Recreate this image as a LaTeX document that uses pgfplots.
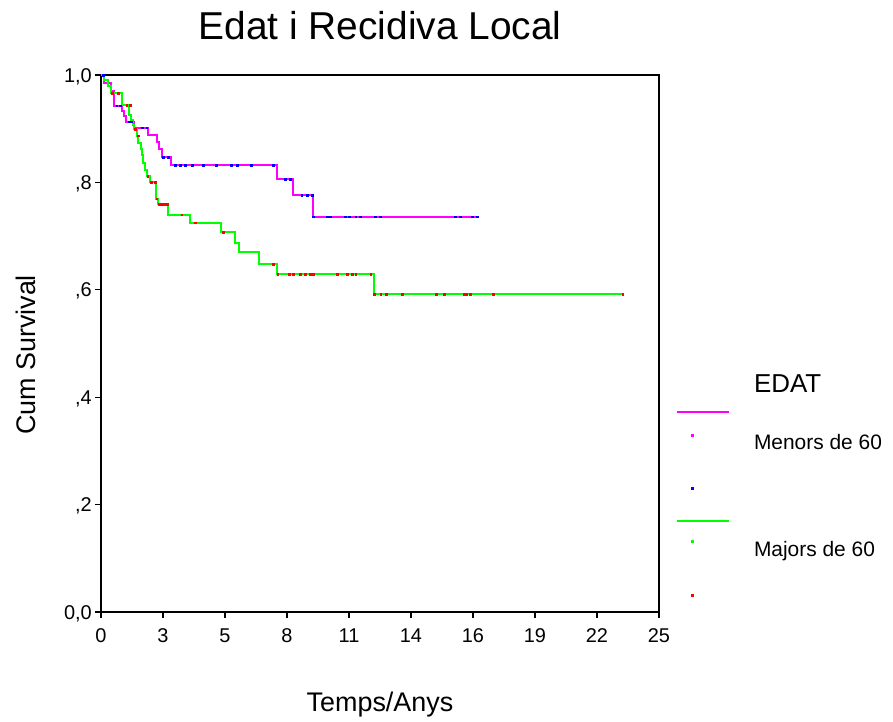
\documentclass[border=0pt]{standalone}
\usepackage{fontspec}
\setmainfont{Liberation Sans}
\usepackage{pgfplots}
\pgfplotsset{compat=1.18}
\definecolor{cMag}{RGB}{255,0,255}
\definecolor{cGrn}{RGB}{0,255,0}
\definecolor{cBlu}{RGB}{0,0,255}
\definecolor{cRed}{RGB}{255,0,0}
\begin{document}
\begin{tikzpicture}
\begin{axis}[
  name=ax,
  scale only axis,
  width=558bp, height=537bp,
  xmin=0, xmax=25, ymin=0, ymax=1,
  xtick={0,2.7778,5.5556,8.3333,11.1111,13.8889,16.6667,19.4444,22.2222,25},
  xticklabels={0,3,5,8,11,14,16,19,22,25},
  ytick={0,0.2,0.4,0.6,0.8,1},
  yticklabels={{0,0},{,2},{,4},{,6},{,8},{1,0}},
  tick align=outside, tick pos=left,
  major tick length=6bp,
  every tick/.style={black, line width=1.2bp},
  axis line style={black, line width=1.3bp},
  ticklabel style={font=\fontsize{20}{24}\selectfont, inner sep=0pt},
  xticklabel style={anchor=base, yshift=-24bp},
  yticklabel style={anchor=base east, xshift=-3bp, yshift=-7.2bp},
  title={Edat i Recidiva Local},
  title style={font=\fontsize{39}{42}\selectfont, at={(axis description cs:0.5,1.0559)}, anchor=base, inner sep=0pt},
  xlabel={Temps/Anys},
  xlabel style={font=\fontsize{27}{29}\selectfont, at={(axis description cs:0.5,-0.1844)}, anchor=base, inner sep=0pt},
  ylabel={Cum Survival},
  ylabel style={font=\fontsize{27}{29}\selectfont, at={(axis description cs:-0.1165,0.4786)}, anchor=base, inner sep=0pt},
  legend cell align=left,
  legend style={draw=none, fill=none, at={(axis description cs:1.0305,0.4338)}, anchor=north west,
    inner sep=0pt, outer sep=0pt, row sep=0pt, column sep=24bp,
    nodes={inner sep=0pt, outer sep=0pt, text height=17bp, text depth=9.7bp},
    font=\fontsize{21}{24}\selectfont},
]
% Menors de 60
\addplot[const plot, cMag, line width=2bp, forget plot] coordinates {
(0,1) (0.15,0.985) (0.45,0.97) (0.58,0.943) (0.92,0.933) (1.03,0.924) (1.14,0.913)
(1.47,0.902) (2.12,0.888) (2.50,0.876) (2.58,0.862) (2.72,0.847) (3.12,0.832)
(7.87,0.806) (8.59,0.7765) (9.51,0.736) (16.86,0.736)};
% Majors de 60
\addplot[const plot, cGrn, line width=2bp, forget plot] coordinates {
(0,1) (0.12,0.99) (0.3,0.98) (0.45,0.966) (0.94,0.944) (1.24,0.925) (1.35,0.916)
(1.43,0.907) (1.50,0.899) (1.60,0.887) (1.66,0.873) (1.79,0.863) (1.82,0.851)
(1.90,0.836) (1.97,0.823) (2.04,0.811) (2.19,0.800) (2.46,0.770) (2.54,0.759)
(3.02,0.740) (3.99,0.725) (5.36,0.707) (6.0,0.688) (6.19,0.670) (7.09,0.648)
(7.90,0.629) (12.23,0.5916) (23.37,0.5916)};
% censored Menors
\addplot[only marks, mark=square*, mark size=0.8bp, cBlu, forget plot] coordinates {
(0.1,1) (0.7,0.943) (0.85,0.943) (1.25,0.913) (1.35,0.913) (1.84,0.902) (2.05,0.902)
(2.8,0.847) (3.0,0.847)
(3.32,0.832) (3.54,0.832) (3.76,0.832) (4.08,0.832) (4.57,0.832) (5.15,0.832)
(5.82,0.832) (6.09,0.832) (6.72,0.832) (7.71,0.832) (8.24,0.806) (8.47,0.806)
(9.0,0.7765) (9.23,0.7765) (9.45,0.7765) (9.52,0.736) (10.13,0.736) (10.26,0.736)
(10.93,0.736) (11.11,0.736) (11.42,0.736) (11.6,0.736) (12.28,0.736) (12.5,0.736)
(15.86,0.736) (16.08,0.736) (16.62,0.736) (16.85,0.736)};
% censored Majors
\addplot[only marks, mark=square*, mark size=0.8bp, cRed, forget plot] coordinates {
(0.5,0.966) (0.76,0.966) (1.16,0.944) (1.3,0.944) (1.52,0.899) (1.68,0.887)
(2.1,0.811) (2.25,0.800) (2.42,0.800) (2.5,0.770) (2.6,0.759) (2.73,0.759)
(2.87,0.759) (2.96,0.759) (3.62,0.740) (4.21,0.725) (5.48,0.707) (7.72,0.648)
(7.92,0.629) (8.42,0.629) (8.6,0.629) (8.92,0.629) (9.14,0.629) (9.36,0.629)
(9.5,0.629) (10.57,0.629) (11.02,0.629) (11.25,0.629) (11.42,0.629) (12.08,0.629)
(12.24,0.5916) (12.53,0.5916) (12.77,0.5916) (13.5,0.5916) (15.01,0.5916)
(15.37,0.5916) (16.26,0.5916) (16.35,0.5916) (16.53,0.5916) (17.58,0.5916)
(23.37,0.5916)};
% legend
\addlegendimage{empty legend}
\addlegendentry{\raisebox{4bp}{\fontsize{26}{28}\selectfont EDAT}}
\addlegendimage{legend image code/.code={\draw[cMag,line width=2bp] (0bp,7bp) -- (52bp,7bp);}}
\addlegendentry{}
\addlegendimage{legend image code/.code={\path[draw=none,fill=none] (0bp,0bp) -- (52bp,0bp); \fill[cMag] (14bp,10bp) rectangle (16bp,12bp);}}
\addlegendentry{Menors de 60}
\addlegendimage{empty legend}
\addlegendentry{}
\addlegendimage{legend image code/.code={\path[draw=none,fill=none] (0bp,0bp) -- (52bp,0bp); \fill[cBlu] (14bp,10bp) rectangle (16bp,12bp);}}
\addlegendentry{}
\addlegendimage{legend image code/.code={\draw[cGrn,line width=2bp] (0bp,5bp) -- (52bp,5bp);}}
\addlegendentry{}
\addlegendimage{legend image code/.code={\path[draw=none,fill=none] (0bp,0bp) -- (52bp,0bp); \fill[cGrn] (14bp,10bp) rectangle (16bp,12bp);}}
\addlegendentry{Majors de 60}
\addlegendimage{empty legend}
\addlegendentry{}
\addlegendimage{legend image code/.code={\path[draw=none,fill=none] (0bp,0bp) -- (52bp,0bp); \fill[cRed] (14bp,10bp) rectangle (16bp,12bp);}}
\addlegendentry{}
\end{axis}
\pgfresetboundingbox
\path ([shift={(-101bp,-110bp)}]ax.south west) rectangle ([shift={(792bp,612bp)}]ax.south west);
\end{tikzpicture}
\end{document}
